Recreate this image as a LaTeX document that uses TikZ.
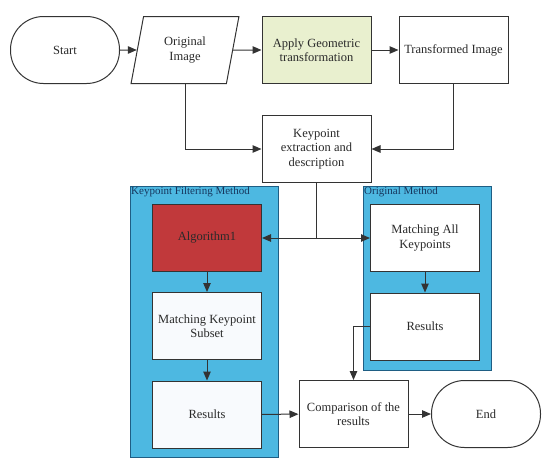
\documentclass[tikz,border=0pt]{standalone}
\usepackage{fontspec}
\setmainfont{Liberation Serif}
\usetikzlibrary{arrows.meta,positioning,shapes.geometric,calc}

\definecolor{linegray}{HTML}{333333}
\definecolor{textgray}{HTML}{2A2A2A}
\definecolor{boxgreen}{HTML}{E9F0CF}
\definecolor{algored}{HTML}{C1393B}
\definecolor{groupblue}{HTML}{4DB8E1}
\definecolor{groupedge}{HTML}{1F5E84}
\definecolor{grouptext}{HTML}{17375E}
\definecolor{innerwhite}{HTML}{F8FAFD}

\tikzset{
  flowbox/.style={draw=linegray, line width=1pt, fill=white, minimum width=109, minimum height=67,
    align=center, inner sep=2pt, text=textgray, font=\fontsize{12.5}{14.5}\selectfont},
  terminal/.style={flowbox, rounded corners=33pt},
  iobox/.style={flowbox, trapezium, trapezium left angle=77, trapezium right angle=103,
    trapezium stretches=true, minimum width=108},
  group/.style={draw=groupedge, fill=groupblue, line width=1pt},
  grouplabel/.style={anchor=north west, inner sep=1.5pt, text=grouptext, font=\fontsize{11}{12}\selectfont},
  flow/.style={draw=linegray, line width=1pt, -{Triangle[length=9pt,width=7.5pt]}}
}

\begin{document}
\begin{tikzpicture}[x=1pt, y=-1pt]
  \useasboundingbox (0,0) rectangle (550,466);

  % the two method panels
  \node [group, minimum width=148, minimum height=271] (filtering) at (204,321.5) {};
  \node [grouplabel] at (filtering.north west) {Keypoint Filtering Method};
  \node [group, minimum width=128, minimum height=184] (original) at (427,278) {};
  \node [grouplabel] at (original.north west) {Original Method};

  % top row
  \node [terminal] (start) at (65,50) {Start};
  \node [iobox] (orig) at (185,50) {Original\\Image};
  \node [flowbox, fill=boxgreen] (geom) at (316.5,50) {Apply Geometric\\transformation};
  \node [flowbox] (trans) at (453.5,50) {Transformed Image};

  \node [flowbox] (keypoint) at (316.5,149) {Keypoint\\extraction and\\description};

  % filtering branch
  \node [flowbox, fill=algored] (algo) at (207,238) {Algorithm1};
  \node [flowbox, fill=innerwhite] (subset) at (207,326) {Matching Keypoint\\Subset};
  \node [flowbox, fill=innerwhite] (resleft) at (207,414.5) {Results};

  % original branch
  \node [flowbox] (matchall) at (425,238) {Matching All\\Keypoints};
  \node [flowbox] (resright) at (425,326.5) {Results};

  % bottom row
  \node [flowbox] (compare) at (353.5,414) {Comparison of the\\results};
  \node [terminal] (finish) at (486,414) {End};

  \coordinate (split) at (keypoint.south |- algo.east);

  \draw [flow] (start) -- (orig);
  \draw [flow] (orig) -- (geom);
  \draw [flow] (geom) -- (trans);
  \draw [flow] (orig.south) |- (keypoint.west);
  \draw [flow] (trans.south) |- (keypoint.east);
  \draw [draw=linegray, line width=1pt] (keypoint.south) -- (split);
  \draw [flow] (split) -- (algo.east);
  \draw [flow] (split) -- (matchall.west);
  \draw [flow] (algo) -- (subset);
  \draw [flow] (subset) -- (resleft);
  \draw [flow] (matchall) -- (resright);
  \draw [flow] (resleft) -- (compare);
  \draw [flow] (resright.west) -| (compare.north);
  \draw [flow] (compare) -- (finish);

\end{tikzpicture}
\end{document}
